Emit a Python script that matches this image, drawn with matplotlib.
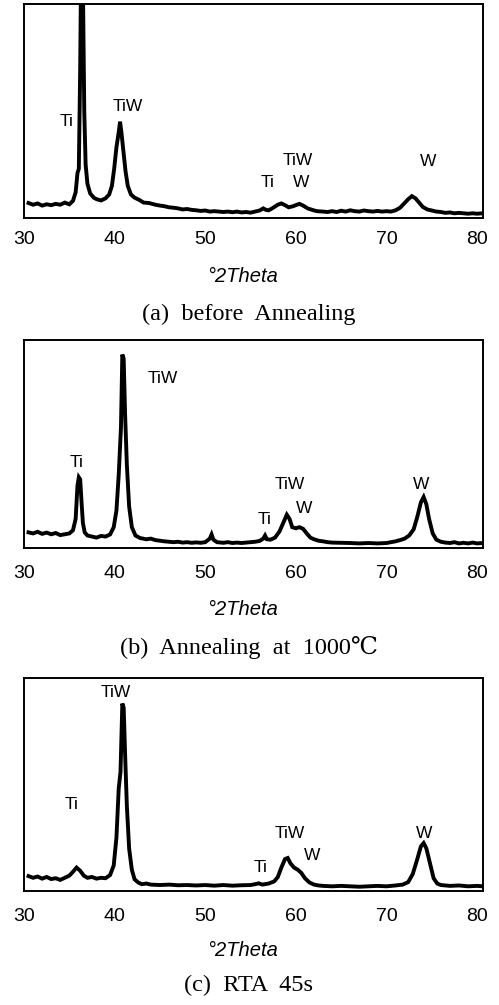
import matplotlib
matplotlib.use("Agg")
import matplotlib.pyplot as plt

# ---------------- data (2theta in degrees, intensity in arbitrary units) ----------------
theta_a = [30.5, 31.0, 31.5, 32.0, 32.5, 33.0, 33.5, 34.0, 34.5, 35.0, 35.4, 35.7, 35.9, 36.05,
           36.2, 36.35, 36.5, 36.65, 36.8, 37.0, 37.3, 37.7, 38.0, 38.5, 39.0, 39.4, 39.7, 39.95,
           40.2, 40.45, 40.6, 40.75, 40.95, 41.2, 41.45, 41.8, 42.2, 42.7, 43.2, 43.8, 44.5, 45.0,
           45.5, 46.0, 46.5, 47.0, 47.5, 48.0, 48.5, 49.0, 49.5, 50.0, 50.5, 51.0, 51.5, 52.0,
           52.5, 53.0, 53.5, 54.0, 54.5, 55.0, 55.5, 56.0, 56.4, 56.7, 57.0, 57.5, 58.0, 58.4,
           58.8, 59.2, 59.7, 60.1, 60.4, 60.8, 61.3, 61.8, 62.3, 63.0, 63.5, 64.0, 64.5, 65.0,
           65.5, 66.0, 66.5, 67.0, 67.5, 68.0, 68.5, 69.0, 69.5, 70.0, 70.5, 71.0, 71.5, 72.0,
           72.4, 72.8, 73.2, 73.6, 74.0, 74.5, 75.0, 75.5, 76.0, 76.5, 77.0, 77.5, 78.0, 78.5,
           79.0, 79.5, 80.0, 80.6]
inten_a = [70, 62, 68, 58, 64, 60, 66, 62, 72, 64, 80, 120, 210, 230,
           700, 1400, 1100, 500, 250, 160, 115, 95, 88, 82, 92, 110, 150, 230,
           330, 400, 450, 400, 320, 220, 150, 110, 95, 85, 72, 70, 62, 58,
           55, 50, 48, 45, 40, 42, 38, 36, 33, 35, 30, 32, 30, 28,
           30, 27, 30, 26, 28, 25, 30, 35, 45, 38, 36, 48, 62, 68,
           60, 50, 55, 62, 66, 58, 45, 38, 32, 30, 28, 32, 28, 34,
           30, 36, 32, 30, 35, 32, 30, 33, 30, 32, 30, 36, 48, 70,
           88, 102, 92, 72, 52, 40, 35, 30, 28, 24, 26, 22, 24, 22,
           20, 22, 20, 22]

theta_b = [30.5, 31.0, 31.5, 32.0, 32.5, 33.0, 33.5, 34.0, 34.5, 35.0, 35.4, 35.7, 35.9, 36.05,
           36.2, 36.35, 36.5, 36.7, 37.0, 37.5, 38.0, 38.5, 39.0, 39.5, 39.9, 40.2, 40.45, 40.7,
           40.85, 41.0, 41.15, 41.35, 41.6, 41.9, 42.3, 42.8, 43.5, 44.0, 44.5, 45.0, 45.5, 46.0,
           46.5, 47.0, 47.5, 48.0, 48.5, 49.0, 49.5, 50.0, 50.5, 50.7, 50.9, 51.3, 52.0, 52.5,
           53.0, 53.5, 54.0, 54.5, 55.0, 55.5, 56.0, 56.4, 56.6, 56.8, 57.2, 57.7, 58.2, 58.6,
           59.0, 59.3, 59.6, 60.0, 60.4, 60.8, 61.2, 61.6, 62.0, 62.5, 63.0, 63.5, 64.0, 65.0,
           66.0, 67.0, 68.0, 69.0, 70.0, 70.5, 71.0, 71.5, 72.0, 72.5, 73.0, 73.4, 73.8, 74.1,
           74.4, 74.7, 75.1, 75.5, 76.0, 76.5, 77.0, 77.5, 78.0, 78.5, 79.0, 79.5, 80.0, 80.6]
inten_b = [75, 70, 78, 68, 74, 66, 72, 62, 66, 70, 85, 140, 300, 340,
           330, 220, 120, 75, 60, 55, 50, 58, 55, 65, 100, 180, 350, 580,
           930, 910, 650, 400, 200, 100, 60, 48, 42, 45, 38, 35, 32, 30,
           28, 30, 26, 28, 25, 27, 25, 28, 45, 65, 40, 28, 25, 28,
           24, 26, 24, 26, 28, 30, 34, 45, 60, 42, 40, 50, 80, 120,
           160, 140, 100, 95, 100, 92, 70, 50, 42, 35, 32, 28, 26, 25,
           24, 22, 24, 22, 24, 28, 32, 38, 45, 60, 90, 150, 220, 245,
           210, 140, 70, 40, 30, 26, 24, 28, 22, 25, 22, 26, 22, 24]

theta_c = [30.5, 31.0, 31.5, 32.0, 32.5, 33.0, 33.5, 34.0, 34.5, 35.0, 35.4, 35.8, 36.2, 36.6,
           37.0, 37.5, 38.0, 38.5, 39.0, 39.5, 39.9, 40.2, 40.45, 40.65, 40.85, 41.0, 41.15, 41.35,
           41.6, 41.9, 42.2, 42.6, 43.0, 43.5, 44.0, 45.0, 46.0, 47.0, 48.0, 49.0, 50.0, 51.0,
           52.0, 53.0, 54.0, 55.0, 55.5, 55.9, 56.3, 57.0, 57.6, 58.0, 58.4, 58.8, 59.1, 59.4,
           59.8, 60.2, 60.6, 61.0, 61.5, 62.0, 62.5, 63.0, 64.0, 65.0, 66.0, 67.0, 68.0, 69.0,
           70.0, 71.0, 71.8, 72.4, 72.9, 73.4, 73.8, 74.1, 74.4, 74.8, 75.2, 75.6, 76.0, 77.0,
           78.0, 79.0, 80.0, 80.6]
inten_c = [70, 62, 68, 58, 66, 56, 60, 52, 62, 72, 90, 110, 95, 72,
           62, 66, 58, 62, 60, 75, 120, 250, 480, 560, 880, 860, 650, 400,
           200, 100, 55, 40, 32, 35, 30, 28, 30, 27, 28, 26, 28, 25,
           28, 25, 27, 28, 32, 36, 30, 35, 45, 65, 110, 150, 155, 130,
           110, 100, 85, 60, 40, 30, 26, 24, 22, 24, 22, 20, 22, 24,
           22, 26, 30, 42, 80, 150, 210, 225, 200, 130, 60, 35, 28, 24,
           26, 22, 24, 22]

# peak labels: text, 2theta, intensity
labels_a = ["Ti", "TiW", "TiW", "Ti", "W", "W"]
lab_x_a = [34.7, 41.4, 60.2, 56.9, 60.6, 74.6]
lab_y_a = [449, 519, 271, 164, 164, 266]

labels_b = ["TiW", "Ti", "TiW", "Ti", "W", "W"]
lab_x_b = [45.3, 35.8, 59.3, 56.5, 60.9, 73.8]
lab_y_b = [817, 413, 303, 135, 192, 303]

labels_c = ["TiW", "Ti", "TiW", "W", "Ti", "W"]
lab_x_c = [40.1, 35.3, 59.3, 61.8, 56.1, 74.1]
lab_y_c = [934, 404, 272, 169, 108, 272]

tick_vals = [30, 40, 50, 60, 70, 80]
xlabel = "°2Theta"
captions = ["(a)  before  Annealing", "(b)  Annealing  at  1000℃", "(c)  RTA  45s"]

# ---------------- figure ----------------
W, H = 499, 1005
fig = plt.figure(figsize=(W / 100, H / 100), dpi=100)

sans = "Liberation Sans"
serif = ["Liberation Serif", "DejaVu Serif", "Noto Sans CJK KR"]

# (box top px, box bottom px, tick pad pt, xlabel y px, caption y px)
layout = [(4, 218, 9.0, 277, 314),
          (340, 548, 12.5, 609, 647),
          (678, 891, 12.5, 950, 985)]
series = [(theta_a, inten_a, labels_a, lab_x_a, lab_y_a),
          (theta_b, inten_b, labels_b, lab_x_b, lab_y_b),
          (theta_c, inten_c, labels_c, lab_x_c, lab_y_c)]
x_left, x_right = 24, 483

for (top, bot, pad, xl_y, cap_y), (tx, iy, labs, lx, ly), cap in zip(layout, series, captions):
    ax = fig.add_axes([x_left / W, 1 - bot / H, (x_right - x_left) / W, (bot - top) / H])
    ax.plot(tx, iy, color="black", lw=2.8, solid_joinstyle="miter")
    ax.set_xlim(30.45, 80.65)
    ax.set_ylim(0, 1000)
    ax.set_xticks(tick_vals)
    ax.set_xticklabels([str(v) for v in tick_vals], fontsize=14, family=sans)
    ax.tick_params(axis="x", length=0, pad=pad)
    ax.set_yticks([])
    for s in ax.spines.values():
        s.set_linewidth(1.4)
    for t, x, y in zip(labs, lx, ly):
        ax.text(x, y, t, ha="center", va="center", fontsize=12.5, family=sans)
    fig.text(243 / W, 1 - xl_y / H, xlabel, ha="center", va="center",
             fontsize=14.5, family=sans, style="italic")
    fig.text(249 / W, 1 - cap_y / H, cap, ha="center", va="center",
             fontsize=17.5, family=serif)

fig.savefig("out.png", dpi=100)
